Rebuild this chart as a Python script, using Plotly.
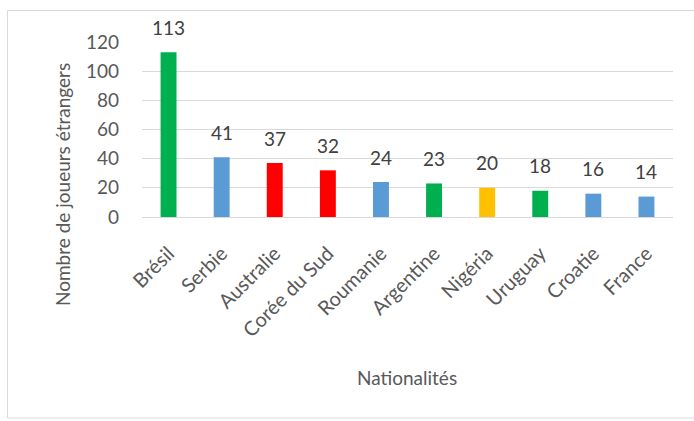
import plotly.graph_objects as go

categories = ["Brésil", "Serbie", "Australie", "Corée du Sud", "Roumanie",
              "Argentine", "Nigéria", "Uruguay", "Croatie", "France"]
values = [113, 41, 37, 32, 24, 23, 20, 18, 16, 14]
bar_colors = ["#00b050", "#5b9bd5", "#ff0000", "#ff0000", "#5b9bd5",
              "#00b050", "#ffc000", "#00b050", "#5b9bd5", "#5b9bd5"]
y_ticks = [0, 20, 40, 60, 80, 100, 120]

W, H = 694, 421
L, R, T, B = 142, 21, 42, 204
PW, PH = W - L - R, H - T - B

def px_x(p):
    return (p - L) / PW

def px_y(p):
    return (H - B - p) / PH

FONT = "Lato, 'Liberation Sans', sans-serif"

fig = go.Figure()
fig.add_trace(go.Bar(
    x=categories, y=values, marker=dict(color=bar_colors, line=dict(width=0)),
    width=0.3, showlegend=False, hoverinfo="x+y",
))

for c, v in zip(categories, values):
    fig.add_annotation(x=c, y=v, text=str(v), showarrow=False,
                       yanchor="middle", yshift=25,
                       font=dict(family=FONT, size=19, color="#404040"))

fig.add_annotation(xref="paper", yref="paper", x=px_x(62), y=px_y(185),
                   text="Nombre de joueurs étrangers", textangle=-90,
                   showarrow=False, xanchor="center", yanchor="middle",
                   font=dict(family=FONT, size=19, color="#595959"))
fig.add_annotation(xref="paper", yref="paper", x=px_x(407), y=px_y(377),
                   text="Nationalités", showarrow=False,
                   xanchor="center", yanchor="middle",
                   font=dict(family=FONT, size=19, color="#595959"))

fig.add_shape(type="rect", xref="paper", yref="paper",
              x0=px_x(7.5), x1=px_x(720), y0=px_y(418), y1=px_y(10.5),
              line=dict(color="#d9d9d9", width=1), fillcolor="rgba(0,0,0,0)",
              layer="below")

fig.update_layout(
    width=W, height=H,
    margin=dict(l=L, r=R, t=T, b=B, pad=0),
    paper_bgcolor="white", plot_bgcolor="white",
    bargap=0.7,
    font=dict(family=FONT, color="#595959"),
)
fig.update_xaxes(
    type="category", tickangle=-45, showgrid=False, showline=False,
    ticks="", tickfont=dict(family=FONT, size=20, color="#595959"),
    ticklabelstandoff=20,
)
fig.update_yaxes(
    range=[0, 120], tickvals=y_ticks, showgrid=True, gridcolor="#d9d9d9",
    gridwidth=1, zeroline=True, zerolinecolor="#d9d9d9", zerolinewidth=1,
    showline=False, ticks="", tickfont=dict(family=FONT, size=19, color="#595959"),
    ticklabelstandoff=22,
)

fig.write_html("out.html")
